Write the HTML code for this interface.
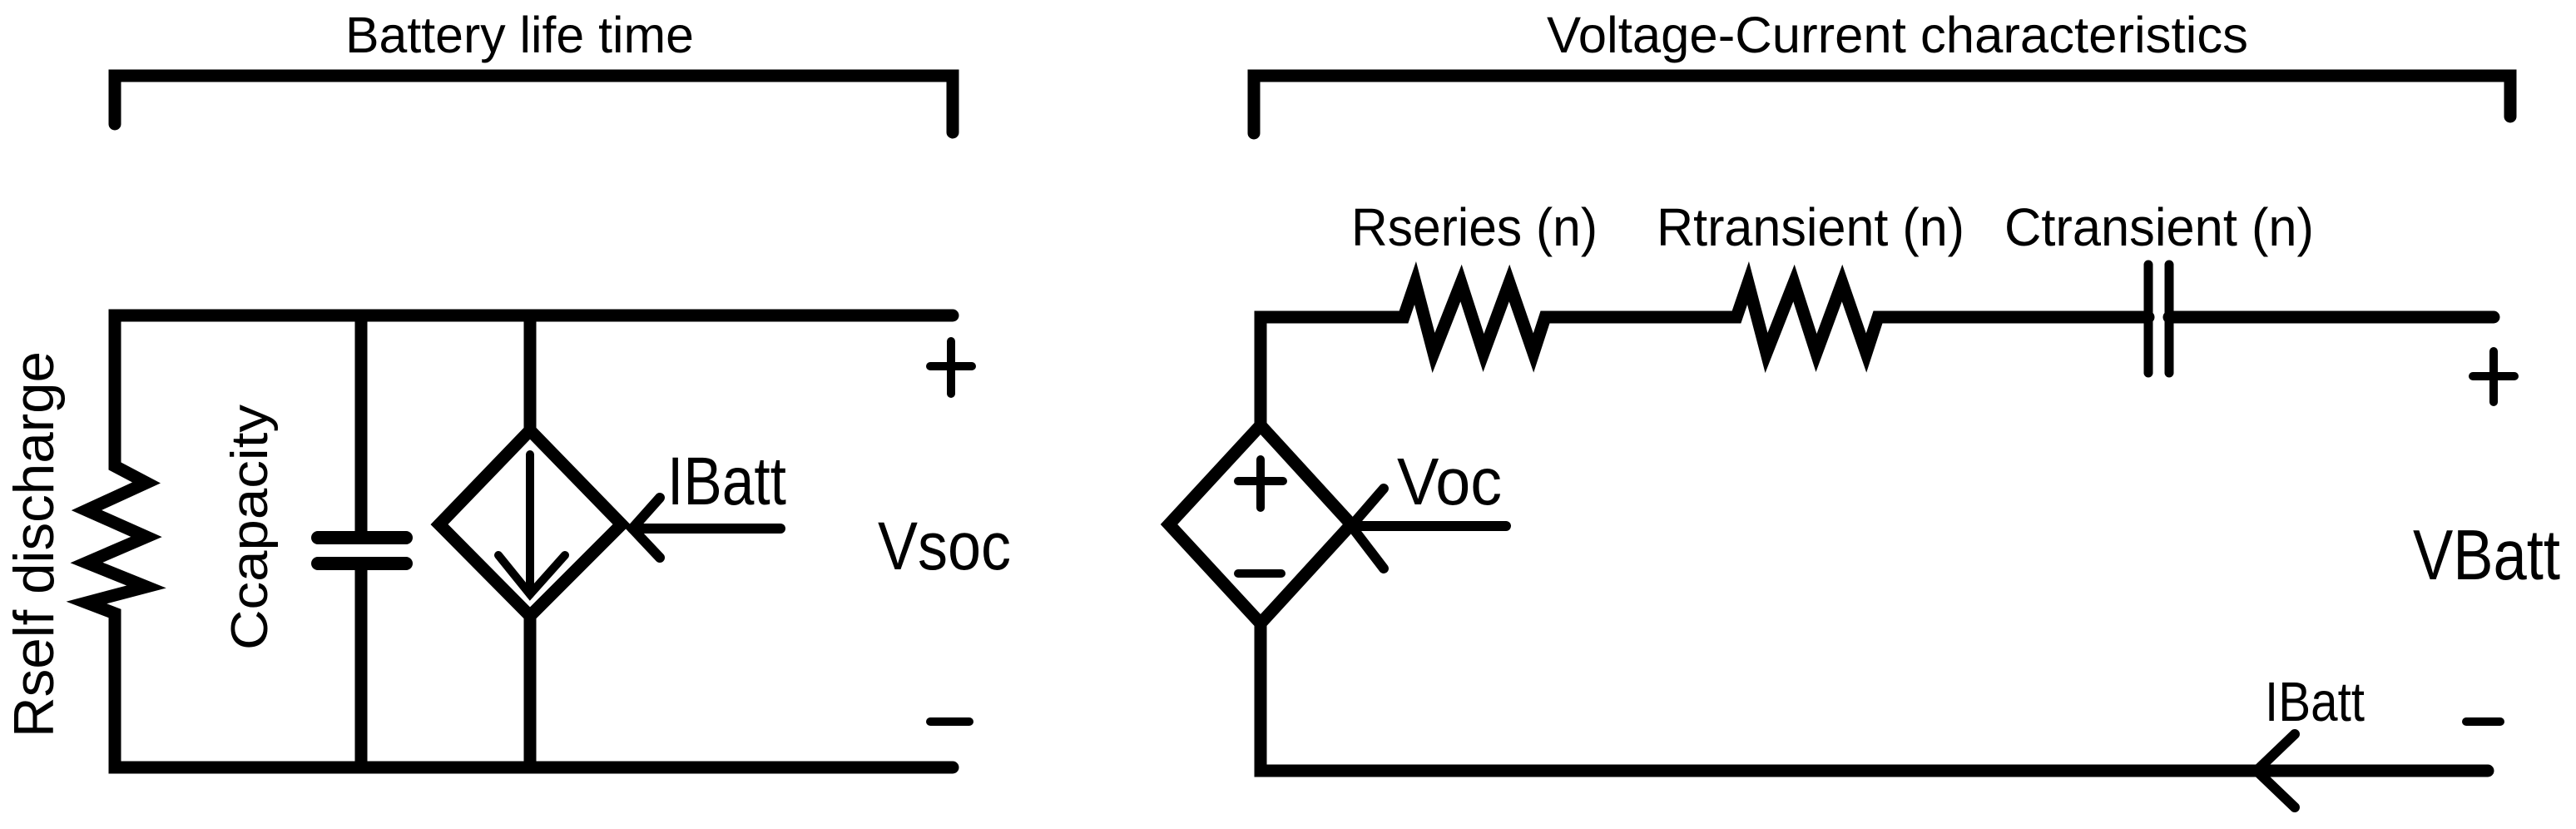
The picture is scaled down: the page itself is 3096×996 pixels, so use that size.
<!DOCTYPE html>
<html><head><meta charset="utf-8"><style>
html,body{margin:0;padding:0;background:#fff;}
svg{display:block;}
text{font-family:"Liberation Sans",Arial,sans-serif;fill:#000;}
</style></head><body>
<svg width="3096" height="996" viewBox="0 0 3096 996" xmlns="http://www.w3.org/2000/svg">
<g fill="none" stroke="#000" stroke-width="15" stroke-linecap="round" stroke-linejoin="miter">
<polyline points="138,149 138,91 1145,91 1145,159"/>
<polyline points="1507,160 1507,91 3017,91 3017,140"/>
<polyline points="1145,379 138,379 138,560 176,580 104,613 176,645 104,676 176,705 104,724 138,737 138,922 1145,922"/>
<line x1="434" y1="379" x2="434" y2="646"/>
<line x1="434" y1="677" x2="434" y2="922"/>
<line x1="382" y1="646" x2="488" y2="646" stroke-width="16"/>
<line x1="382" y1="677" x2="488" y2="677" stroke-width="16"/>
<line x1="637" y1="379" x2="637" y2="517"/>
<line x1="637" y1="740" x2="637" y2="922"/>
<polygon points="637,517 747,630 637,740 528,630"/>
<g stroke-width="10">
<line x1="637" y1="546" x2="637" y2="714"/>
<polyline points="599,667 637,714 679,667"/>
</g>
<g stroke-width="12">
<line x1="938" y1="635" x2="760" y2="635"/>
<polyline points="793,598 760,635 793,670"/>
</g>
<g stroke-width="10">
<line x1="1143" y1="410" x2="1143" y2="473"/>
<line x1="1118" y1="440" x2="1168" y2="440"/>
<line x1="1118" y1="867" x2="1165" y2="867"/>
</g>
<polyline points="1515,511 1515,381 1687,381 1701,340 1723,424 1756,340 1783,424 1814,340 1843,424 1857,381 2087,381 2101,340 2123,424 2156,340 2183,424 2214,340 2243,424 2257,381 2582,381"/>
<line x1="2607" y1="381" x2="2997" y2="381"/>
<line x1="2582" y1="318" x2="2582" y2="448" stroke-width="11"/>
<line x1="2607" y1="318" x2="2607" y2="448" stroke-width="11"/>
<polygon points="1515,511 1624,630 1515,749 1405,630"/>
<polyline points="1515,749 1515,926 2990,926"/>
<g stroke-width="10">
<line x1="1515" y1="552" x2="1515" y2="610"/>
<line x1="1488" y1="578" x2="1542" y2="578"/>
<line x1="1488" y1="689" x2="1540" y2="689"/>
</g>
<g stroke-width="12">
<line x1="1624" y1="632" x2="1810" y2="632"/>
<polyline points="1663,587 1624,632 1663,683"/>
<polyline points="2758,882 2712,926 2758,970"/>
</g>
<g stroke-width="10">
<line x1="2997" y1="422" x2="2997" y2="483"/>
<line x1="2972" y1="452" x2="3022" y2="452"/>
<line x1="2964" y1="867" x2="3005" y2="867"/>
</g>
</g>
<text x="415" y="63" font-size="61" textLength="419" lengthAdjust="spacingAndGlyphs">Battery life time</text>
<text x="1859" y="63" font-size="61" textLength="843" lengthAdjust="spacingAndGlyphs">Voltage-Current characteristics</text>
<text transform="translate(64,886) rotate(-90)" font-size="68" textLength="464" lengthAdjust="spacingAndGlyphs">Rself discharge</text>
<text transform="translate(321,781) rotate(-90)" font-size="62" textLength="295" lengthAdjust="spacingAndGlyphs">Ccapacity</text>
<text x="802" y="606" font-size="82" textLength="143" lengthAdjust="spacingAndGlyphs">IBatt</text>
<text x="1055" y="684" font-size="82" textLength="160" lengthAdjust="spacingAndGlyphs">Vsoc</text>
<text x="1624" y="295" font-size="64" textLength="296" lengthAdjust="spacingAndGlyphs">Rseries (n)</text>
<text x="1991" y="295" font-size="64" textLength="370" lengthAdjust="spacingAndGlyphs">Rtransient (n)</text>
<text x="2409" y="295" font-size="64" textLength="372" lengthAdjust="spacingAndGlyphs">Ctransient (n)</text>
<text x="1679" y="606" font-size="80" textLength="126" lengthAdjust="spacingAndGlyphs">Voc</text>
<text x="2900" y="696" font-size="85" textLength="177" lengthAdjust="spacingAndGlyphs">VBatt</text>
<text x="2722" y="866" font-size="67" textLength="120" lengthAdjust="spacingAndGlyphs">IBatt</text>
</svg>
</body></html>
